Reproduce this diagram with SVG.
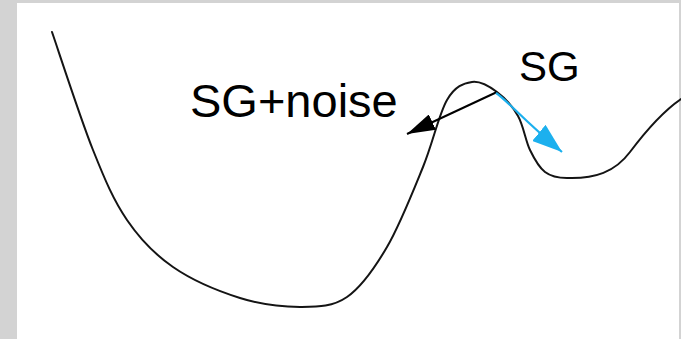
<svg xmlns="http://www.w3.org/2000/svg" width="681" height="339" viewBox="0 0 681 339">
  <style>
    .curve { fill: none; stroke: #141414; stroke-width: 2; stroke-linecap: round; stroke-linejoin: round; }
    .label { font-family: "Liberation Sans", Arial, sans-serif; fill: #000; }
    .arrow-black { fill: none; stroke: #000; stroke-width: 2; }
    .arrow-blue { fill: none; stroke: #1cb0ee; stroke-width: 2.2; }
  </style>
  <defs>
    <marker id="head-black" markerUnits="userSpaceOnUse" markerWidth="28" markerHeight="17" viewBox="0 0 28 17" refX="28" refY="8.5" orient="auto">
      <path d="M0,0 L28,8.5 L0,17 Z" fill="#000"/>
    </marker>
    <marker id="head-blue" markerUnits="userSpaceOnUse" markerWidth="30" markerHeight="21" viewBox="0 0 30 21" refX="30" refY="10.5" orient="auto">
      <path d="M0,0 L30,10.5 L0,21 Z" fill="#1cb0ee"/>
    </marker>
  </defs>

  <!-- frame -->
  <rect x="0" y="0" width="681" height="339" fill="#d3d3d3"/>
  <rect x="17" y="3" width="662" height="336" fill="#ffffff"/>

  <!-- loss landscape (smooth spline through sampled points) -->
  <g id="landscape">
    <path class="curve" d="M52,32
      C58.8,51.7 80.5,118.7 93,150
      C105.5,181.3 113.7,200.5 127,220
      C140.3,239.5 154.2,254 173,267
      C191.8,280 218.8,291.3 240,298
      C261.2,304.7 282.2,306.8 300,307
      C317.8,306.8 332.5,307 347,297
      C361.5,287 374.3,268.7 387,247
      C399.7,225.3 413,191.5 423,167
      C433,142.5 438.8,114.2 447,100
      C455.2,85.8 463.7,83.3 472,82
      C480.3,80.7 489.3,86.3 497,92
      C504.7,97.7 512.5,106.3 518,116
      C523.5,125.7 525.5,140.7 530,150
      C534.5,159.3 538.8,167.3 545,172
      C551.2,176.7 557,178 567,178
      C595,179 615,172 630,152
      C643.5,134 662,112 681,99"/>
  </g>

  <!-- labels -->
  <g id="label-sg-noise">
    <text class="label" x="190" y="117" font-size="47">SG+noise</text>
  </g>
  <g id="label-sg">
    <text class="label" x="519" y="81" font-size="42">SG</text>
  </g>

  <!-- update steps -->
  <g id="connectors">
    <path class="arrow-black" d="M497,92 L407,134" marker-end="url(#head-black)"/>
    <path class="arrow-blue" d="M496,93 C508,101 522,119 562,152" marker-end="url(#head-blue)"/>
  </g>
</svg>
